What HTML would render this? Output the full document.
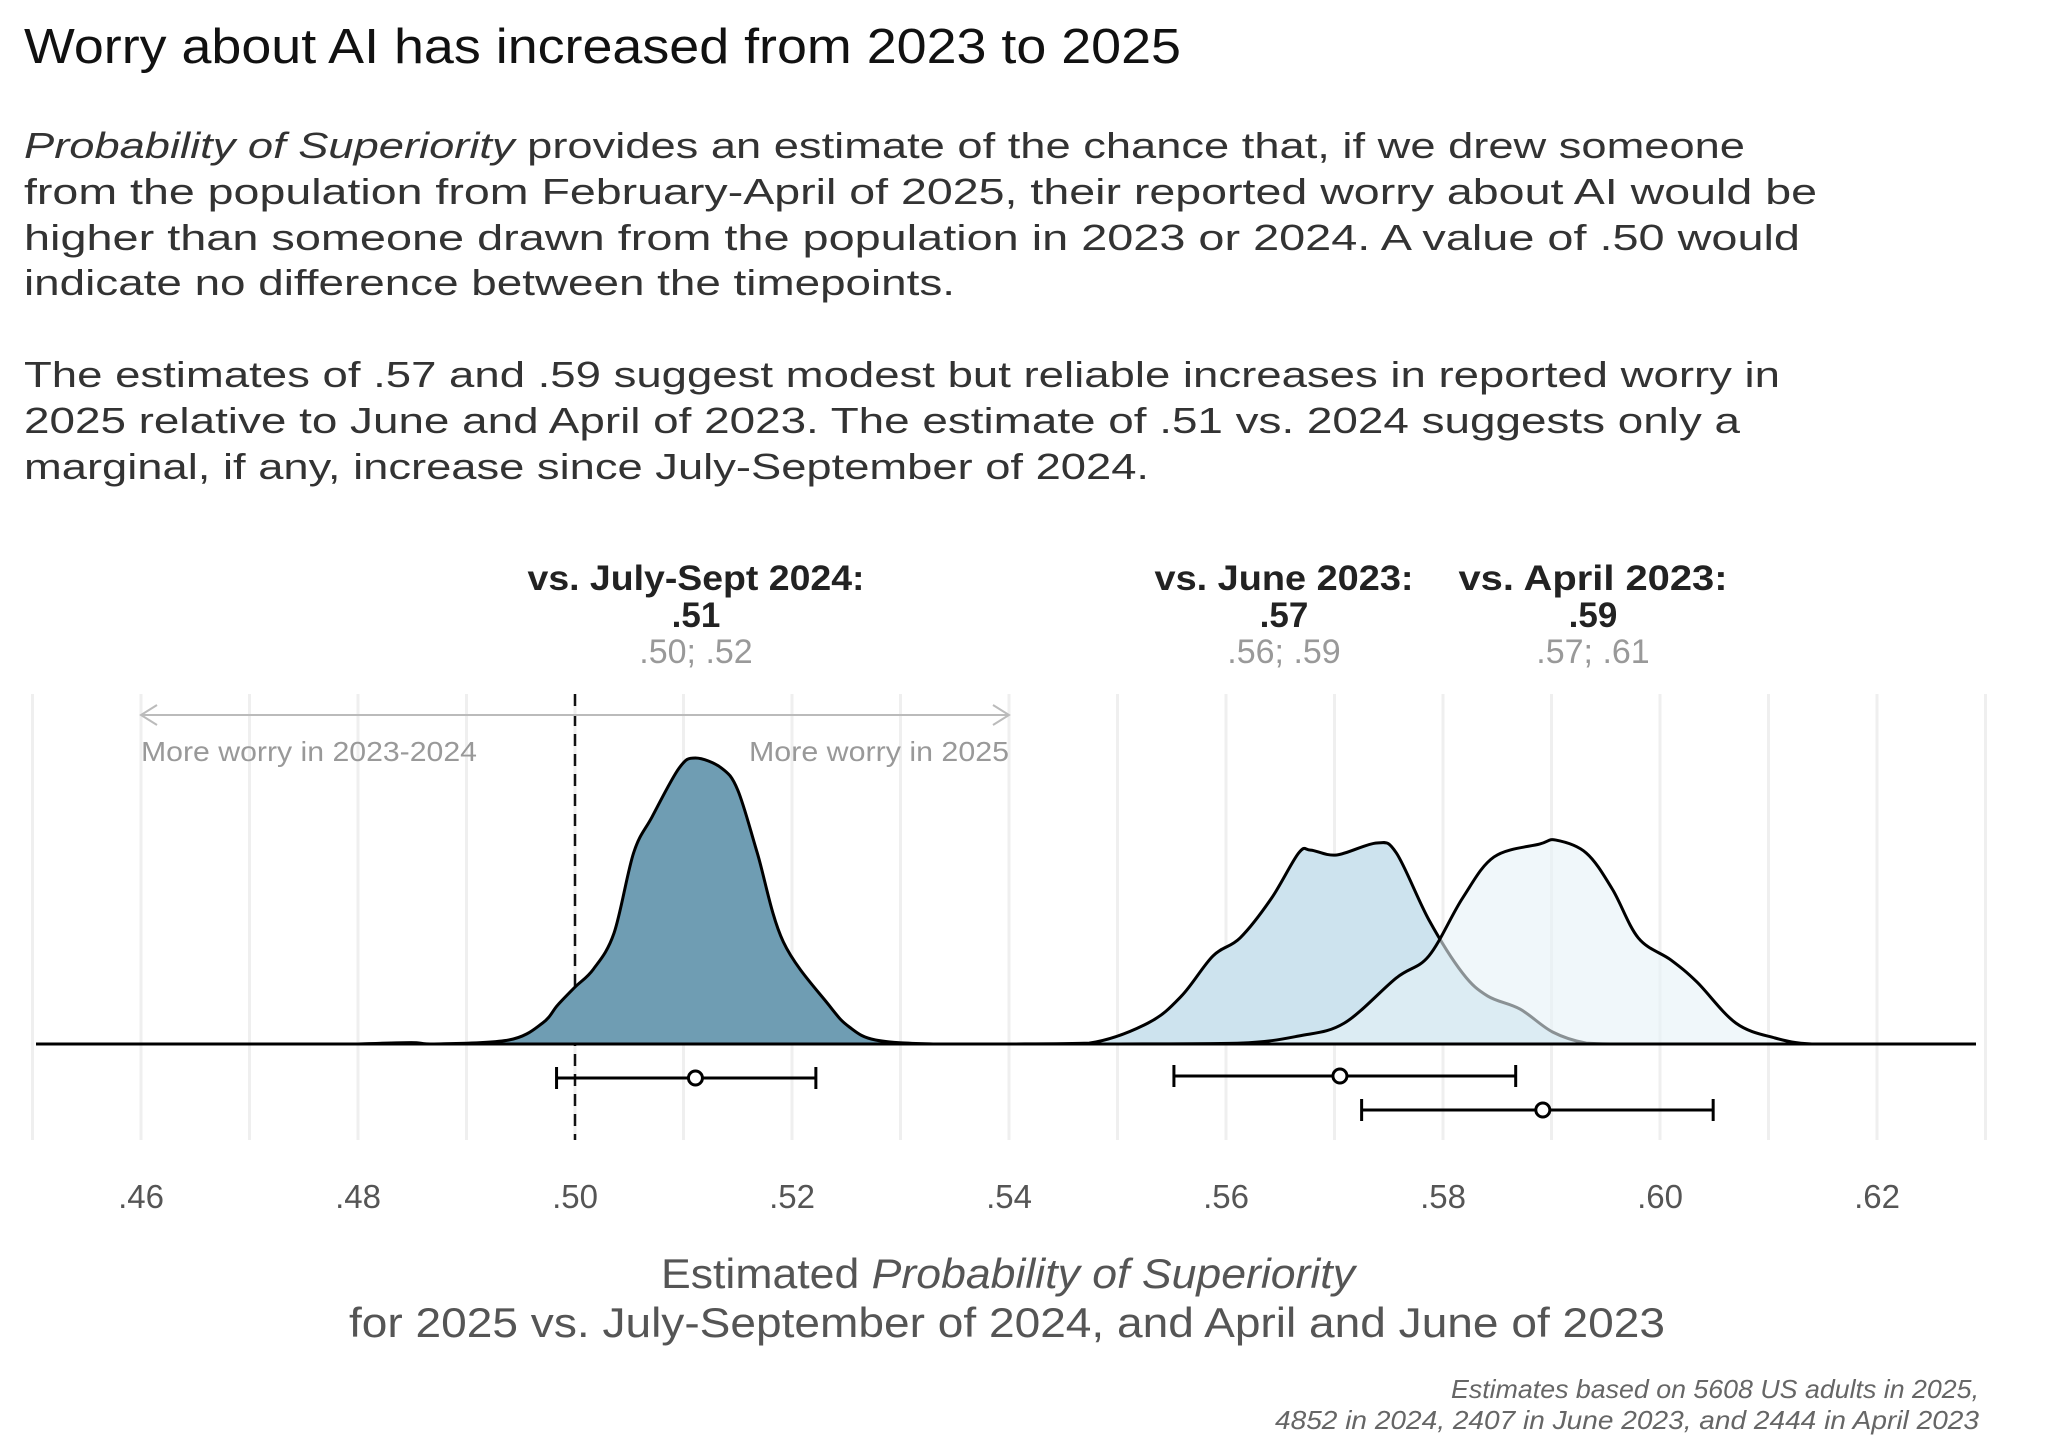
<!DOCTYPE html>
<html><head><meta charset="utf-8"><style>
html,body{margin:0;padding:0;background:#fff;}
svg{display:block;font-family:"Liberation Sans",sans-serif;}
</style></head><body>
<svg id="chart" width="2048" height="1451" viewBox="0 0 2048 1451" xmlns="http://www.w3.org/2000/svg">
<g>
<text x="24" y="63" font-size="49" fill="#111" textLength="1157" lengthAdjust="spacingAndGlyphs">Worry about AI has increased from 2023 to 2025</text>
<g font-size="36" fill="#333">
<text x="24" y="158" textLength="1721" lengthAdjust="spacingAndGlyphs"><tspan font-style="italic">Probability of Superiority</tspan> provides an estimate of the chance that, if we drew someone</text>
<text x="24" y="204" textLength="1793" lengthAdjust="spacingAndGlyphs">from the population from February-April of 2025, their reported worry about AI would be</text>
<text x="24" y="250" textLength="1776" lengthAdjust="spacingAndGlyphs">higher than someone drawn from the population in 2023 or 2024. A value of .50 would</text>
<text x="24" y="295" textLength="931" lengthAdjust="spacingAndGlyphs">indicate no difference between the timepoints.</text>
<text x="24" y="387" textLength="1756" lengthAdjust="spacingAndGlyphs">The estimates of .57 and .59 suggest modest but reliable increases in reported worry in</text>
<text x="24" y="433" textLength="1716" lengthAdjust="spacingAndGlyphs">2025 relative to June and April of 2023. The estimate of .51 vs. 2024 suggests only a</text>
<text x="24" y="479" textLength="1125" lengthAdjust="spacingAndGlyphs">marginal, if any, increase since July-September of 2024.</text>
</g>
</g>
<g id="grid"></g>
<g id="dens"></g>
<g id="err"></g>
<g id="ticks"></g>
<g id="labels"></g>
<g font-size="42" fill="#555" text-anchor="middle">
<text x="1008" y="1288" textLength="694" lengthAdjust="spacingAndGlyphs">Estimated <tspan font-style="italic">Probability of Superiority</tspan></text>
<text x="1007" y="1337" textLength="1316" lengthAdjust="spacingAndGlyphs">for 2025 vs. July-September of 2024, and April and June of 2023</text>
</g>
<g font-size="26" fill="#666" font-style="italic" text-anchor="end">
<text x="1979" y="1398" textLength="528" lengthAdjust="spacingAndGlyphs">Estimates based on 5608 US adults in 2025,</text>
<text x="1979" y="1429" textLength="704" lengthAdjust="spacingAndGlyphs">4852 in 2024, 2407 in June 2023, and 2444 in April 2023</text>
</g>
</svg>
<script>
const tickVals=[0.46,0.48,0.50,0.52,0.54,0.56,0.58,0.60,0.62];
const tickLabels=[".46",".48",".50",".52",".54",".56",".58",".60",".62"];
const julyX=[0.4800,0.4849,0.4870,0.4939,0.4970,0.4984,0.5000,0.5017,0.5036,0.5054,0.5071,0.5096,0.5111,0.5135,0.5150,0.5168,0.5192,0.5234,0.5253,0.5277,0.5330,0.5400];
const julyD=[0,0.5,0,1.4,7.3,13.6,19.9,26.2,38.8,66.8,79.4,96.5,100,96.5,88.8,66.8,35.7,13.6,5.9,1.4,0,0];
const juneX=[0.5400,0.5474,0.5528,0.5559,0.5588,0.5613,0.5642,0.5667,0.5678,0.5702,0.5739,0.5757,0.5787,0.5818,0.5841,0.5871,0.5901,0.5932,0.5960,0.6000];
const juneD=[0,0.3,7.3,16.8,30.8,37.1,51,66.8,67.8,66.1,70.3,66.8,43.4,24.8,16.8,12.2,4.2,0.3,0,0];
const aprX=[0.5500,0.5613,0.5667,0.5709,0.5757,0.5787,0.5818,0.5847,0.5889,0.5904,0.5932,0.5956,0.5980,0.6010,0.6034,0.6070,0.6106,0.6140,0.6200];
const aprD=[0,0.3,2.8,7.3,23.1,30.8,51,65.4,69.9,71.3,66.8,54.2,37.1,29.4,21.7,7.3,2.1,0,0];
const groups=["vs. July-Sept 2024:","vs. June 2023:","vs. April 2023:"];
const estimates=[".51",".57",".59"];
const ciText=[".50; .52",".56; .59",".57; .61"];
const ptEst=[0.5111,0.5705,0.5892];
const ciLo=[0.4983,0.5552,0.5725];
const ciHi=[0.5222,0.5867,0.6049];

const NS="http://www.w3.org/2000/svg";
const X=v=>575+(v-0.5)*10850;
const BASE=1044;
const Y=d=>BASE-d*2.86;
function mk(tag,attrs,parent){const e=document.createElementNS(NS,tag);for(const k in attrs)e.setAttribute(k,attrs[k]);parent.appendChild(e);return e;}
const grid=document.getElementById('grid');
for(let i=0;i<=18;i++){const v=0.45+i*0.01;
 const l=mk('line',{x1:X(v),x2:X(v),y1:694,y2:1140,stroke:'#efefef','stroke-width':3},grid);
 
 }
const ref=mk('line',{x1:X(0.5),x2:X(0.5),y1:694,y2:1140,stroke:'#111','stroke-width':2.5,'stroke-dasharray':'12 8'},grid);


const ag=mk('g',{},grid);


mk('line',{x1:X(0.46),x2:X(0.54),y1:715,y2:715,stroke:'#bbb','stroke-width':2},ag);
mk('path',{d:`M${X(0.46)+16},705 L${X(0.46)},715 L${X(0.46)+16},725`,fill:'none',stroke:'#bbb','stroke-width':2},ag);
mk('path',{d:`M${X(0.54)-16},705 L${X(0.54)},715 L${X(0.54)-16},725`,fill:'none',stroke:'#bbb','stroke-width':2},ag);
const t1=mk('text',{x:X(0.46),y:761,'font-size':28,fill:'#999',textLength:336,lengthAdjust:'spacingAndGlyphs'},ag);t1.textContent='More worry in 2023-2024';


const t2=mk('text',{x:X(0.54),y:761,'font-size':28,fill:'#999','text-anchor':'end',textLength:260,lengthAdjust:'spacingAndGlyphs'},ag);t2.textContent='More worry in 2025';



function smoothPath(xs,ds){const p=xs.map((x,i)=>[X(x),Y(ds[i])]);let d=`M${p[0][0]},${p[0][1]}`;
 for(let i=0;i<p.length-1;i++){const p0=p[i-1]||p[i],p1=p[i],p2=p[i+1],p3=p[i+2]||p2;
  const c1=[p1[0]+(p2[0]-p0[0])/6,p1[1]+(p2[1]-p0[1])/6],c2=[p2[0]-(p3[0]-p1[0])/6,p2[1]-(p3[1]-p1[1])/6];
  d+=` C${c1[0]},${Math.min(BASE,c1[1])} ${c2[0]},${Math.min(BASE,c2[1])} ${p2[0]},${p2[1]}`;}return d;}
const dens=document.getElementById('dens');
const series=[[julyX,julyD,'#6f9db3',1,'density-july-2024'],[juneX,juneD,'#cde3ee',1,'density-june-2023'],[aprX,aprD,'#e6f1f6',0.6,'density-april-2023']];
series.forEach(s=>{const d=smoothPath(s[0],s[1]);
 const p=mk('path',{d:d+` L${X(s[0][s[0].length-1])},${BASE} L${X(s[0][0])},${BASE} Z`,fill:s[2],'fill-opacity':s[3],stroke:'none'},dens);
 
 
 const o=mk('path',{d:d,fill:'none',stroke:'#000','stroke-width':3,'stroke-linejoin':'round'},dens);
 
 });
const bl=mk('line',{x1:36,x2:1976,y1:BASE,y2:BASE,stroke:'#000','stroke-width':3},dens);



const err=document.getElementById('err');
const rows=[1078,1076,1110];
ptEst.forEach((v,i)=>{const g=mk('g',{stroke:'#000','stroke-width':3},err);
 
 
 const y=rows[i];
 mk('line',{x1:X(ciLo[i]),x2:X(ciHi[i]),y1:y,y2:y},g);
 mk('line',{x1:X(ciLo[i]),x2:X(ciLo[i]),y1:y-11,y2:y+11},g);
 mk('line',{x1:X(ciHi[i]),x2:X(ciHi[i]),y1:y-11,y2:y+11},g);
 mk('circle',{cx:X(v),cy:y,r:7,fill:'#fff'},g);});

const ticks=document.getElementById('ticks');
tickVals.forEach((v,i)=>{const t=mk('text',{x:X(v),y:1208,'font-size':33,fill:'#555','text-anchor':'middle'},ticks);
 t.textContent=tickLabels[i];
 
 });

const labels=document.getElementById('labels');
const cx=[696,1284,1593],w1=[337,259,269];
groups.forEach((g,i)=>{const gg=mk('g',{'text-anchor':'middle'},labels);
 
 
 const a=mk('text',{x:cx[i],y:590,'font-size':35,'font-weight':'bold',fill:'#222',textLength:w1[i],lengthAdjust:'spacingAndGlyphs'},gg);a.textContent=g;
 const b=mk('text',{x:cx[i],y:627,'font-size':35,'font-weight':'bold',fill:'#222'},gg);b.textContent=estimates[i];
 const c=mk('text',{x:cx[i],y:663,'font-size':34,fill:'#999'},gg);c.textContent=ciText[i];});
</script>
</body></html>
